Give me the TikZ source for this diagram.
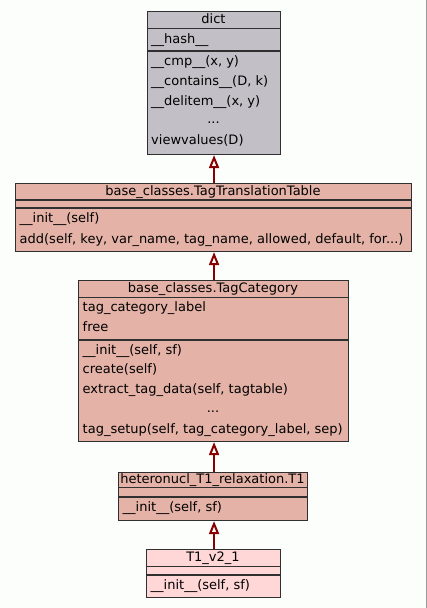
\documentclass[tikz,border=0pt]{standalone}
\usepackage{fontspec}
\setmainfont{DejaVu Sans}
\usetikzlibrary{arrows.meta}
\definecolor{bgc}{HTML}{FCFEFC}
\definecolor{greyc}{HTML}{C2C0C6}
\definecolor{pinkc}{HTML}{E4B2A6}
\definecolor{lightc}{HTML}{FFD7D7}
\definecolor{arrc}{HTML}{880000}
\definecolor{bordc}{HTML}{303030}
\tikzset{
  box/.style={draw=bordc, line width=1.1pt, rectangle, inner sep=0, anchor=north west},
  sep/.style={draw=bordc, line width=1.1pt},
  txt/.style={anchor=west, inner sep=0, text height=9.5pt, text depth=3pt, font=\fontsize{13}{15}\selectfont},
  ttl/.style={anchor=center, inner sep=0, text height=9.5pt, text depth=3pt, font=\fontsize{13}{15}\selectfont},
  inh/.style={draw=arrc, line width=2pt, -{Triangle[open, length=13pt, width=10pt]}}
}
\begin{document}
\begin{tikzpicture}[x=1pt,y=-1pt]
\useasboundingbox (0,0) rectangle (427,608);
\fill[bgc] (0,0) rectangle (427,608);
\draw[gray!80, line width=1pt] (426.5,0) -- (426.5,608);

% dict
\node[box, fill=greyc, minimum width=133pt, minimum height=143pt] (dict) at (147,11) {};
\draw[sep] (147,28.5) -- (280,28.5);
\draw[sep] (147,51) -- (280,51);
\node[ttl] (dictT) at (213.5,20) {dict};
\node[txt] (dictA) at (151,40) {\_\_hash\_\_};
\node[txt] (dictM1) at (151,62.5) {\_\_cmp\_\_(x, y)};
\node[txt] (dictM2) at (151,82.5) {\_\_contains\_\_(D, k)};
\node[txt] (dictM3) at (151,102) {\_\_delitem\_\_(x, y)};
\node[ttl] (dictM4) at (213.5,120.5) {...};
\node[txt] (dictM5) at (151,141.5) {viewvalues(D)};

% TagTranslationTable
\node[box, fill=pinkc, minimum width=396pt, minimum height=68pt] (tt) at (15,183) {};
\draw[sep] (15,200) -- (411,200);
\draw[sep] (15,208) -- (411,208);
\node[ttl] (ttT) at (213,192) {base\_classes.TagTranslationTable};
\node[txt] (ttM1) at (19.5,219.5) {\_\_init\_\_(self)};
\node[txt] (ttM2) at (19.5,240.5) {add(self, key, var\_name, tag\_name, allowed, default, for...)};

% TagCategory
\node[box, fill=pinkc, minimum width=270pt, minimum height=161pt] (tc) at (78,280) {};
\draw[sep] (78,297.5) -- (348,297.5);
\draw[sep] (78,340) -- (348,340);
\node[ttl] (tcT) at (213,289) {base\_classes.TagCategory};
\node[txt] (tcA1) at (82.5,308) {tag\_category\_label};
\node[txt] (tcA2) at (82.5,328) {free};
\node[txt] (tcM1) at (82.5,351) {\_\_init\_\_(self, sf)};
\node[txt] (tcM2) at (82.5,370.5) {create(self)};
\node[txt] (tcM3) at (82.5,390.5) {extract\_tag\_data(self, tagtable)};
\node[ttl] (tcM4) at (213,409.5) {...};
\node[txt] (tcM5) at (82.5,430.5) {tag\_setup(self, tag\_category\_label, sep)};

% T1
\node[box, fill=pinkc, minimum width=189pt, minimum height=48pt] (t1) at (118,472) {};
\draw[sep] (118,487.5) -- (307,487.5);
\draw[sep] (118,497) -- (307,497);
\node[ttl] (t1T) at (212.5,480) {heteronucl\_T1\_relaxation.T1};
\node[txt] (t1M1) at (122.5,508.5) {\_\_init\_\_(self, sf)};

% T1_v2_1
\node[box, fill=lightc, minimum width=134pt, minimum height=48pt] (t2) at (146,549) {};
\draw[sep] (146,566.5) -- (280,566.5);
\draw[sep] (146,575) -- (280,575);
\node[ttl] (t2T) at (213,558.5) {T1\_v2\_1};
\node[txt] (t2M1) at (150.5,586) {\_\_init\_\_(self, sf)};

% inheritance
\draw[inh] (tt.north -| dict.south) -- (dict.south);
\draw[inh] (tc.north -| dict.south) -- (tt.south -| dict.south);
\draw[inh] (t1.north -| dict.south) -- (tc.south -| dict.south);
\draw[inh] (t2.north -| dict.south) -- (t1.south -| dict.south);
\end{tikzpicture}
\end{document}
